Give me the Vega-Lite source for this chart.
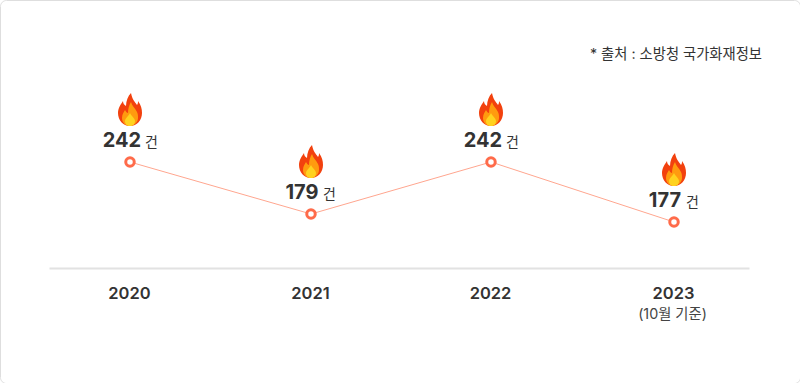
{
  "$schema": "https://vega.github.io/schema/vega-lite/v6.json",
  "width": 800,
  "height": 383,
  "autosize": {"type": "none", "contains": "padding"},
  "padding": 0,
  "background": "#ffffff",
  "view": {"stroke": "#dedede", "strokeWidth": 1, "cornerRadius": 6, "fill": "#ffffff"},
  "config": {"font": "Inter, 'Noto Sans CJK KR', sans-serif"},
  "title": {
    "text": "* 출처 : 소방청 국가화재정보",
    "anchor": "end",
    "orient": "top",
    "offset": -62,
    "dx": -38,
    "fontSize": 14.3,
    "fontWeight": 400,
    "color": "#333333",
    "font": "Inter, 'Noto Sans CJK KR', sans-serif"
  },
  "data": {
    "values": [
      {"year": 2020, "count": 242},
      {"year": 2021, "count": 179},
      {"year": 2022, "count": 242},
      {"year": 2023, "count": 177, "note": "(10월 기준)"}
    ]
  },
  "encoding": {
    "x": {
      "field": "year",
      "type": "quantitative",
      "scale": {
        "domain": [2019.55, 2020, 2021, 2022, 2023, 2023.41],
        "range": [49, 130, 311, 491, 674, 749],
        "nice": false,
        "zero": false
      },
      "axis": {
        "values": [2020, 2021, 2022, 2023],
        "format": "d",
        "title": null,
        "grid": false,
        "ticks": false,
        "offset": -115,
        "domainColor": "#e2e2e2",
        "domainWidth": 2,
        "labelFontSize": 16.5,
        "labelFontWeight": 600,
        "labelColor": "#333333",
        "labelPadding": 17,
        "labelOffset": -1,
        "labelFont": "Inter, 'Noto Sans CJK KR', sans-serif"
      }
    },
    "y": {
      "field": "count",
      "type": "quantitative",
      "scale": {
        "domain": [0, 177, 179, 242],
        "range": [268, 222, 214, 162],
        "nice": false,
        "zero": false
      },
      "axis": null
    }
  },
  "layer": [
    {"mark": {"type": "line", "color": "#ffa68f", "strokeWidth": 1}},
    {
      "mark": {"type": "point", "filled": false, "fill": "#ffffff", "fillOpacity": 1, "stroke": "#ff6b4a", "strokeWidth": 3, "size": 72, "opacity": 1}
    },
    {
      "mark": {
        "type": "point", "filled": true, "color": "#f2410e", "opacity": 1, "size": 4, "yOffset": -52,
        "shape": "M1 -17 C2 -11 5 -8 7 -5 C8 -6 8 -8 8 -9 C11 -5 12 -1 12 3 C12 10 7 16 0 16 C-7 16 -12 10 -12 3 C-12 -2 -9 -6 -7 -9 C-7 -7 -6 -5 -4 -4 C-4 -9 -2 -14 1 -17 Z"
      }
    },
    {
      "mark": {
        "type": "point", "filled": true, "color": "#ff9b0f", "opacity": 1, "size": 4, "yOffset": -52,
        "shape": "M1 -8 C2 -4 5 -2 7 2 C8 4 8 6 8 8 C8 12 4 16 0 16 C-5 16 -8 12 -8 8 C-8 4 -6 2 -5 0 C-4 2 -3 3 -2 3 C-2 -1 -1 -5 1 -8 Z"
      }
    },
    {
      "mark": {
        "type": "point", "filled": true, "color": "#ffd21f", "opacity": 1, "size": 4, "yOffset": -52,
        "shape": "M0 3 C1 6 5 8 5 11 C5 14 3 16 0 16 C-3 16 -5 14 -5 11 C-5 8 -1 6 0 3 Z"
      }
    },
    {
      "transform": [{"filter": "datum.count === 242"}],
      "mark": {"type": "text", "fontSize": 20, "fontWeight": 700, "color": "#333333", "align": "center", "baseline": "alphabetic", "dx": -8, "dy": -15},
      "encoding": {"text": {"field": "count", "type": "nominal"}}
    },
    {
      "transform": [{"filter": "datum.count !== 242"}],
      "mark": {"type": "text", "fontSize": 20, "fontWeight": 700, "color": "#333333", "align": "center", "baseline": "alphabetic", "dx": -9, "dy": -15},
      "encoding": {"text": {"field": "count", "type": "nominal"}}
    },
    {
      "transform": [{"filter": "datum.count === 242"}],
      "mark": {"type": "text", "fontSize": 14, "fontWeight": 400, "color": "#333333", "align": "left", "baseline": "alphabetic", "dx": 15, "dy": -15, "text": "건"}
    },
    {
      "transform": [{"filter": "datum.count !== 242"}],
      "mark": {"type": "text", "fontSize": 14, "fontWeight": 400, "color": "#333333", "align": "left", "baseline": "alphabetic", "dx": 12, "dy": -15, "text": "건"}
    },
    {
      "transform": [{"filter": "isValid(datum.note)"}],
      "mark": {"type": "text", "fontSize": 14.3, "fontWeight": 400, "color": "#444444", "align": "center", "baseline": "alphabetic", "dx": -1.5, "dy": 51},
      "encoding": {
        "y": {"datum": 0},
        "text": {"field": "note", "type": "nominal"}
      }
    }
  ]
}
